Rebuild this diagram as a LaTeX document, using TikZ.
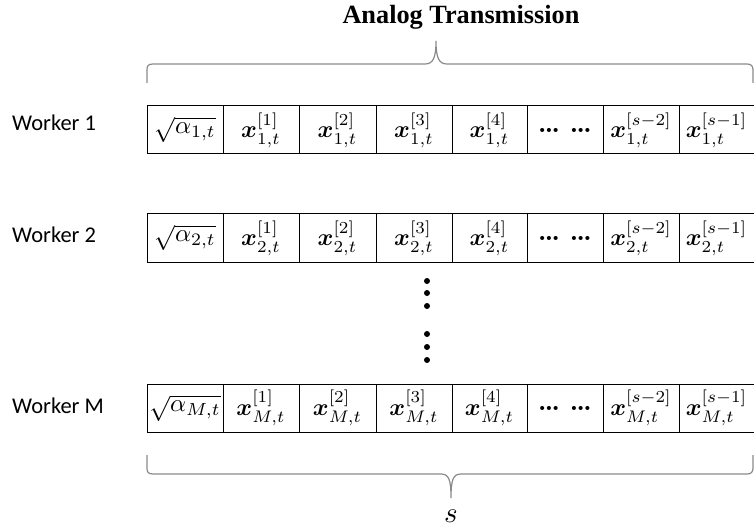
\documentclass[tikz,border=0pt]{standalone}
\usepackage{amsmath,bm}
\usepackage{fontspec}
\newfontfamily\workerfont{Carlito}
\newfontfamily\titlefont{Liberation Serif}
\definecolor{bracegray}{HTML}{8A8A8A}
\newcommand{\cellm}[1]{\scalebox{2.4}{\normalsize$#1$}}
\newcommand{\cellroot}[1]{\scalebox{2.5}{\normalsize$#1$}}
\begin{document}
\begin{tikzpicture}[x=1pt,y=-1pt,
  cell/.style={draw, line width=1pt, inner sep=0pt, minimum height=48pt},
  worker/.style={anchor=base west, inner sep=0pt,
    font=\workerfont\fontsize{22.5}{26}\selectfont},
  bracepath/.style={draw=bracegray, line width=1.2pt},
  vdot/.style={circle, fill=black, inner sep=0pt, minimum size=6pt}]
\useasboundingbox (0,0) rectangle (754,529);
% title
\node[font=\titlefont\bfseries\fontsize{26.3}{30}\selectfont, anchor=base, inner sep=0pt]
  (title) at (461,24) {Analog Transmission};
% top brace
\draw[bracepath] (147,83) -- (147,70) .. controls (147,66) and (148,64) .. (153,64)
  -- (425,64) .. controls (433,64) and (436,58) .. (436,41)
  .. controls (436,58) and (439,64) .. (447,64) -- (747,64)
  .. controls (751,64) and (753,66) .. (753,70) -- (753,83);
% rows
\foreach \r/\yc/\yb in {1/130/131, 2/238/243, M/408/413}{
  \node[worker] (w\r) at (12,\yb) {Worker \r};
  \foreach \c/\xl/\xr/\txt in {
      1/147/223/{\cellroot{\sqrt{\alpha_{\r,t}}}},
      2/223/299/{\cellm{\bm{x}^{[1]}_{\r,t}}},
      3/299/376/{\cellm{\bm{x}^{[2]}_{\r,t}}},
      4/376/452/{\cellm{\bm{x}^{[3]}_{\r,t}}},
      5/452/527/{\cellm{\bm{x}^{[4]}_{\r,t}}},
      6/527/603/{\scalebox{2.6}{\normalsize\bfseries\ldots\ \ldots}},
      7/603/679/{\cellm{\bm{x}^{[s-2]}_{\r,t}}},
      8/679/754/{\cellm{\bm{x}^{[s-1]}_{\r,t}}}}{
    \node[cell, minimum width={(\xr-\xl)*1pt}] (r\r-\c) at ({(\xl+\xr)/2},\yc) {\txt};
  }
}
% vertical dots
\foreach \k/\yy in {1/281, 2/293, 3/306, 4/334, 5/347, 6/360}{
  \node[vdot] (dot\k) at (427,\yy) {};
}
% bottom brace
\draw[bracepath] (147,455) -- (147,468) .. controls (147,472) and (148,474) .. (153,474)
  -- (441,474) .. controls (449,474) and (451,480) .. (451,498)
  .. controls (451,480) and (453,474) .. (461,474) -- (747,474)
  .. controls (751,474) and (753,472) .. (753,468) -- (753,455);
\node[inner sep=0pt] (slabel) at (451,516) {\scalebox{2.9}{\normalsize$s$}};
\end{tikzpicture}
\end{document}
